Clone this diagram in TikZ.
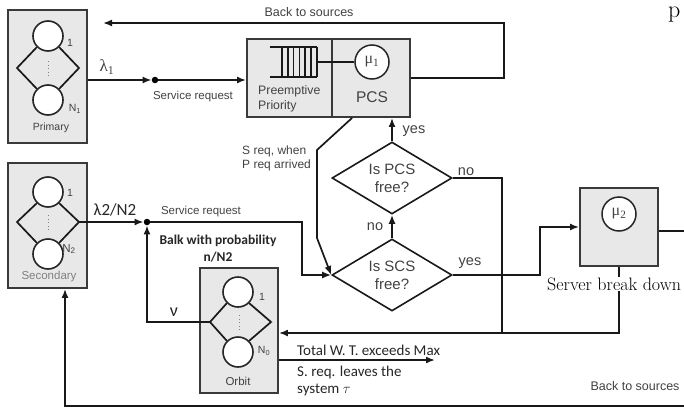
\documentclass[tikz,border=0pt]{standalone}
\usepackage{fontspec}
\newfontfamily\arialf{Liberation Sans}
\newfontfamily\calf{Carlito}
\newfontfamily\timesf{Liberation Serif}
\usetikzlibrary{arrows.meta,shapes.geometric}
\definecolor{boxfill}{RGB}{232,232,232}
\definecolor{boxline}{RGB}{58,58,58}
\definecolor{txtgray}{RGB}{66,66,66}

\begin{document}
\begin{tikzpicture}[x=1pt,y=-1pt,
  srcbox/.style={draw=boxline,fill=boxfill,line width=1.9pt,inner sep=0pt},
  unit/.style={circle,draw=black!85,fill=white,line width=1.6pt,minimum size=30pt,inner sep=0pt},
  srv/.style={circle,draw=black!85,fill=white,line width=1.5pt,minimum size=34pt,inner sep=0pt,
    font=\timesf\fontsize{16}{16}\selectfont,text=txtgray},
  dec/.style={diamond,draw=black!90,line width=1.6pt,aspect=1.67,minimum width=120pt,
    minimum height=72pt,inner sep=0pt,align=center,font=\arialf\fontsize{15}{18}\selectfont,text=txtgray},
  junc/.style={circle,fill=black,inner sep=0pt,minimum size=6.5pt},
  wire/.style={line width=1.7pt,draw=black!90},
  arr/.style={wire,-{Latex[length=9pt,width=7pt]}},
  dots/.style={draw=gray,line width=1pt,dash pattern=on 1.2pt off 2.4pt},
  sans/.style={inner sep=0pt,text=txtgray,font=\arialf\fontsize{11.5}{13}\selectfont},
  cal/.style={inner sep=0pt,text=black!85,font=\calf\fontsize{15}{17}\selectfont}
]
\useasboundingbox (0,0) rectangle (684,409);

\node[srcbox,minimum width=79pt,minimum height=133pt] (primary) at (47.5,76.5) {};
\node[unit] (p1) at (48,36) {};
\node[unit] (pN) at (48,100) {};
\draw[wire] (p1.south west) -- (17,68) -- (pN.north west);
\draw[wire] (p1.south east) -- (79,68) -- (pN.north east);
\draw[dots] (48,61) -- (48,76);
\node[sans,font=\arialf\fontsize{10.5}{10}\selectfont] (p1lbl) at (70,43) {1};
\node[sans,font=\arialf\fontsize{10.5}{10}\selectfont] (pNlbl) at (75,109) {N\textsubscript{1}};
\node[sans,font=\arialf\fontsize{10.5}{10}\selectfont] (primlbl) at (51,128) {Primary};

\node[srcbox,minimum width=79pt,minimum height=125pt] (secondary) at (47.5,225.5) {};
\node[unit] (s1) at (48,192) {};
\node[unit] (sN) at (48,254) {};
\coordinate (sR) at (79,222);
\draw[wire] (s1.south west) -- (17,222) -- (sN.north west);
\draw[wire] (s1.south east) -- (sR) -- (sN.north east);
\draw[dots] (48,215) -- (48,230);
\node[sans,font=\arialf\fontsize{10.5}{10}\selectfont] (s1lbl) at (70,193) {1};
\node[sans,font=\arialf\fontsize{11.5}{11}\selectfont] (sNlbl) at (69,249) {N\textsubscript{2}};
\node[sans,text=gray,font=\arialf\fontsize{11.5}{11}\selectfont] (seclbl) at (49,277) {Secondary};

\node[srcbox,minimum width=78pt,minimum height=125pt] (orbit) at (239,330.5) {};
\node[unit] (o1) at (238,292) {};
\node[unit] (oN) at (238,352) {};
\coordinate (oL) at (210,322);
\draw[wire] (o1.south west) -- (oL) -- (oN.north west);
\draw[wire] (o1.south east) -- (271,322) -- (oN.north east);
\draw[dots] (239,315) -- (239,330);
\node[sans,font=\arialf\fontsize{10.5}{10}\selectfont] (o1lbl) at (262,297) {1};
\node[sans,font=\arialf\fontsize{10.5}{10}\selectfont] (oNlbl) at (264,351) {N\textsubscript{0}};
\node[sans,font=\arialf\fontsize{11.5}{11}\selectfont] (orblbl) at (238,381) {Orbit};

\node[srcbox,minimum width=85pt,minimum height=78pt] (prio) at (289.5,78) {};
\node[srcbox,minimum width=78pt,minimum height=78pt] (pcsr) at (371,78) {};
\node[srv] (mu1) at (372,62) {μ\textsubscript{1}};
\draw[wire] (270,47) -- (317,47) (270,77) -- (317,77);
\foreach \i in {0,...,6}
  \draw[wire] (282+5.8*\i,47) -- ++(0,30);
\draw[wire] (317,62) -- (mu1);
\node[sans,anchor=west,align=left,font=\arialf\fontsize{12.3}{15}\selectfont] (priotxt) at (258,99) {Preemptive\\Priority};
\node[sans,font=\arialf\fontsize{15.5}{16}\selectfont] (pcstxt) at (372,97) {PCS};

\node[srcbox,minimum width=78pt,minimum height=78pt] (mu2box) at (619,227) {};
\node[srv] (mu2) at (619,214) {μ\textsubscript{2}};

\node[dec] (pcsfree) at (392,178) {Is PCS\\free?};
\node[dec] (scsfree) at (392,275) {Is SCS\\free?};

\node[junc] (dotP) at (155,80) {};
\draw[arr] (primary.east |- dotP) -- (dotP);
\draw[arr] (dotP) -- (prio.west |- dotP);
\node[font=\timesf\fontsize{17}{17}\selectfont,text=txtgray,inner sep=0pt] (lam1) at (107,67) {λ\textsubscript{1}};
\node[sans] (req1) at (193,97) {Service request};

\coordinate (topR) at (504,23);
\coordinate (backP) at (103,23);
\draw[arr] (pcsr.east) -| (topR) -- (backP);
\node[sans,font=\arialf\fontsize{12.5}{13}\selectfont] (back1) at (309,12) {Back to sources};

\draw[arr] (pcsfree.north) -- (pcsfree.north |- pcsr.south);
\node[sans,font=\arialf\fontsize{14.5}{15}\selectfont] (yes1) at (414,131) {yes};
\draw[arr] (scsfree.north) -- (pcsfree.south);
\node[sans,font=\arialf\fontsize{14.5}{15}\selectfont] (no2) at (375,227) {no};

\coordinate (noDown) at (502,333);
\draw[wire] (pcsfree.east) -| (noDown);
\node[sans,font=\arialf\fontsize{14.5}{15}\selectfont] (no1) at (466,172) {no};

\coordinate (yesBend) at (540,275);
\draw[arr] (scsfree.east) -- (yesBend) |- (mu2box.west);
\node[sans,font=\arialf\fontsize{14.5}{15}\selectfont] (yes2) at (470,263) {yes};

\coordinate (outR) at (684,231);
\draw[wire] (mu2box.east |- outR) -- (outR);
\draw[arr] (mu2box.south) |- (orbit.east |- noDown);
\node[fill=white,inner sep=1pt,anchor=west,font=\rmfamily\fontsize{18}{18}\selectfont] (brk) at (546,284) {Server break down};

\coordinate (sq1) at (317,150);
\coordinate (sq2) at (317,238);
\draw[arr] ([xshift=21pt]pcsr.south west) -- (sq1) -- (sq2) -- (scsfree.west);
\node[sans,anchor=west,align=left,font=\arialf\fontsize{12}{14}\selectfont] (sreq) at (242,158) {S req, when\\P req arrived};

\node[junc] (dotS) at (147,222) {};
\draw[arr] (sR) -- (dotS);
\node[cal,font=\calf\fontsize{17}{17}\selectfont] (lam2) at (115,210) {λ2/N2};
\coordinate (reqBend) at (302,222);
\draw[arr] (dotS) -- (reqBend) |- (scsfree.west);
\node[sans] (req2) at (201,212) {Service request};
\node[cal,align=center,font=\calf\bfseries\fontsize{13.5}{17}\selectfont] (balk) at (218,249) {Balk with probability\\n/N2};

\draw[arr] (oL) -| (dotS);
\node[cal,font=\calf\fontsize{18}{18}\selectfont] (nu) at (174,312) {ν};

\coordinate (leave) at (435,360);
\draw[arr] (orbit.east |- leave) -- (leave);
\node[cal,anchor=base west] (tw1) at (297,355) {Total W. T. exceeds Max};
\node[cal,anchor=base west] (tw2) at (297,376) {S. req. leaves the};
\node[cal,anchor=base west] (tw3) at (297,393) {system $\tau$};

\coordinate (botR) at (684,406);
\coordinate (botL) at (65,406);
\draw[arr] (botR) -- (botL) -- (botL |- secondary.south);
\node[sans,font=\arialf\fontsize{12.5}{13}\selectfont] (back2) at (635,386) {Back to sources};

\node[anchor=base west,inner sep=0pt,font=\rmfamily\fontsize{24}{24}\selectfont] (pg) at (668,18) {p};
\end{tikzpicture}
\end{document}
